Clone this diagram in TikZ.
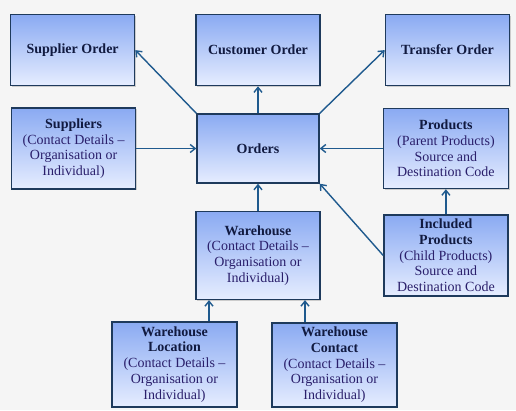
\documentclass[tikz,border=0pt]{standalone}
\usepackage{fontspec}
\setmainfont{Liberation Serif}
\usepackage{xcolor}
\usepackage{tikz}
\usetikzlibrary{arrows.meta,positioning,shadows}
\definecolor{boxtop}{HTML}{8AAAF2}
\definecolor{boxbot}{HTML}{E6EDFF}
\definecolor{boxline}{HTML}{1E3A5C}
\definecolor{ttl}{HTML}{111A40}
\definecolor{sub}{HTML}{2A1F6B}
\definecolor{arrc}{HTML}{1F5A8E}
\newcommand{\ttlx}[1]{\textbf{\color{ttl}#1}}

\begin{document}
\begin{tikzpicture}[
  x=1pt, y=1pt,
  node distance=27pt and 60pt,
  ent/.style={draw=boxline,line width=1.4pt,top color=boxtop,bottom color=boxbot,
    minimum width=124pt,minimum height=71pt,align=center,inner sep=1pt,
    font=\fontsize{14}{15.7}\selectfont,text=sub,
    drop shadow={shadow xshift=1.2pt,shadow yshift=-1.2pt,opacity=0.35}},
  arr/.style={-{Straight Barb[length=5pt,width=8pt]},line width=1.4pt,draw=arrc}
]
  \fill[color=black!4] (0,0) rectangle (516,-410);
  \useasboundingbox (0,0) rectangle (516,-410);

  \node[ent, minimum width=122pt, minimum height=69pt] (orders) at (258,-148.5) {\ttlx{Orders}};
  \node[ent, above=27pt of orders] (custord) {\ttlx{Customer Order}};
  \node[ent, left=60pt of custord] (supord) {\ttlx{Supplier Order}};
  \node[ent, right=64pt of custord] (trford) {\ttlx{Transfer Order}};
  \node[ent, minimum height=81pt, left=60pt of orders] (suppl)
    {\ttlx{Suppliers}\\(Contact Details --\\Organisation or\\Individual)};
  \node[ent, minimum width=125pt, minimum height=80pt, right=63pt of orders] (prod)
    {\ttlx{Products}\\(Parent Products)\\Source and\\Destination Code};
  \node[ent, minimum height=81pt, below=25pt of prod] (inclprod)
    {\ttlx{Included}\\\ttlx{Products}\\(Child Products)\\Source and\\Destination Code};
  \node[ent, minimum height=88pt, below=27pt of orders] (wareh)
    {\ttlx{Warehouse}\\(Contact Details --\\Organisation or\\Individual)};
  \node[ent, minimum width=125pt, minimum height=85pt, below=21pt of wareh, xshift=-83.5pt] (whloc)
    {\ttlx{Warehouse}\\\ttlx{Location}\\(Contact Details --\\Organisation or\\Individual)};
  \node[ent, minimum width=125pt, minimum height=84pt, below=22pt of wareh, xshift=76.5pt] (whcont)
    {\ttlx{Warehouse}\\\ttlx{Contact}\\(Contact Details --\\Organisation or\\Individual)};

  \draw[arr] (orders.north west) -- (supord.east);
  \draw[arr] (orders.north) -- (custord.south);
  \draw[arr] (orders.north east) -- (trford.west);
  \draw[arr] (suppl.east) -- (suppl.east -| orders.west);
  \draw[arr] (prod.west) -- (prod.west -| orders.east);
  \draw[arr] (inclprod.west) -- (orders.south east);
  \draw[arr] (wareh.north) -- (orders.south);
  \draw[arr] (inclprod.north) -- (prod.south);

  \draw[arr] ([xshift=34.5pt]whloc.north) -- ([xshift=34.5pt]whloc.north |- wareh.south);
  \draw[arr] ([xshift=-29.5pt]whcont.north) -- ([xshift=-29.5pt]whcont.north |- wareh.south);
\end{tikzpicture}
\end{document}
